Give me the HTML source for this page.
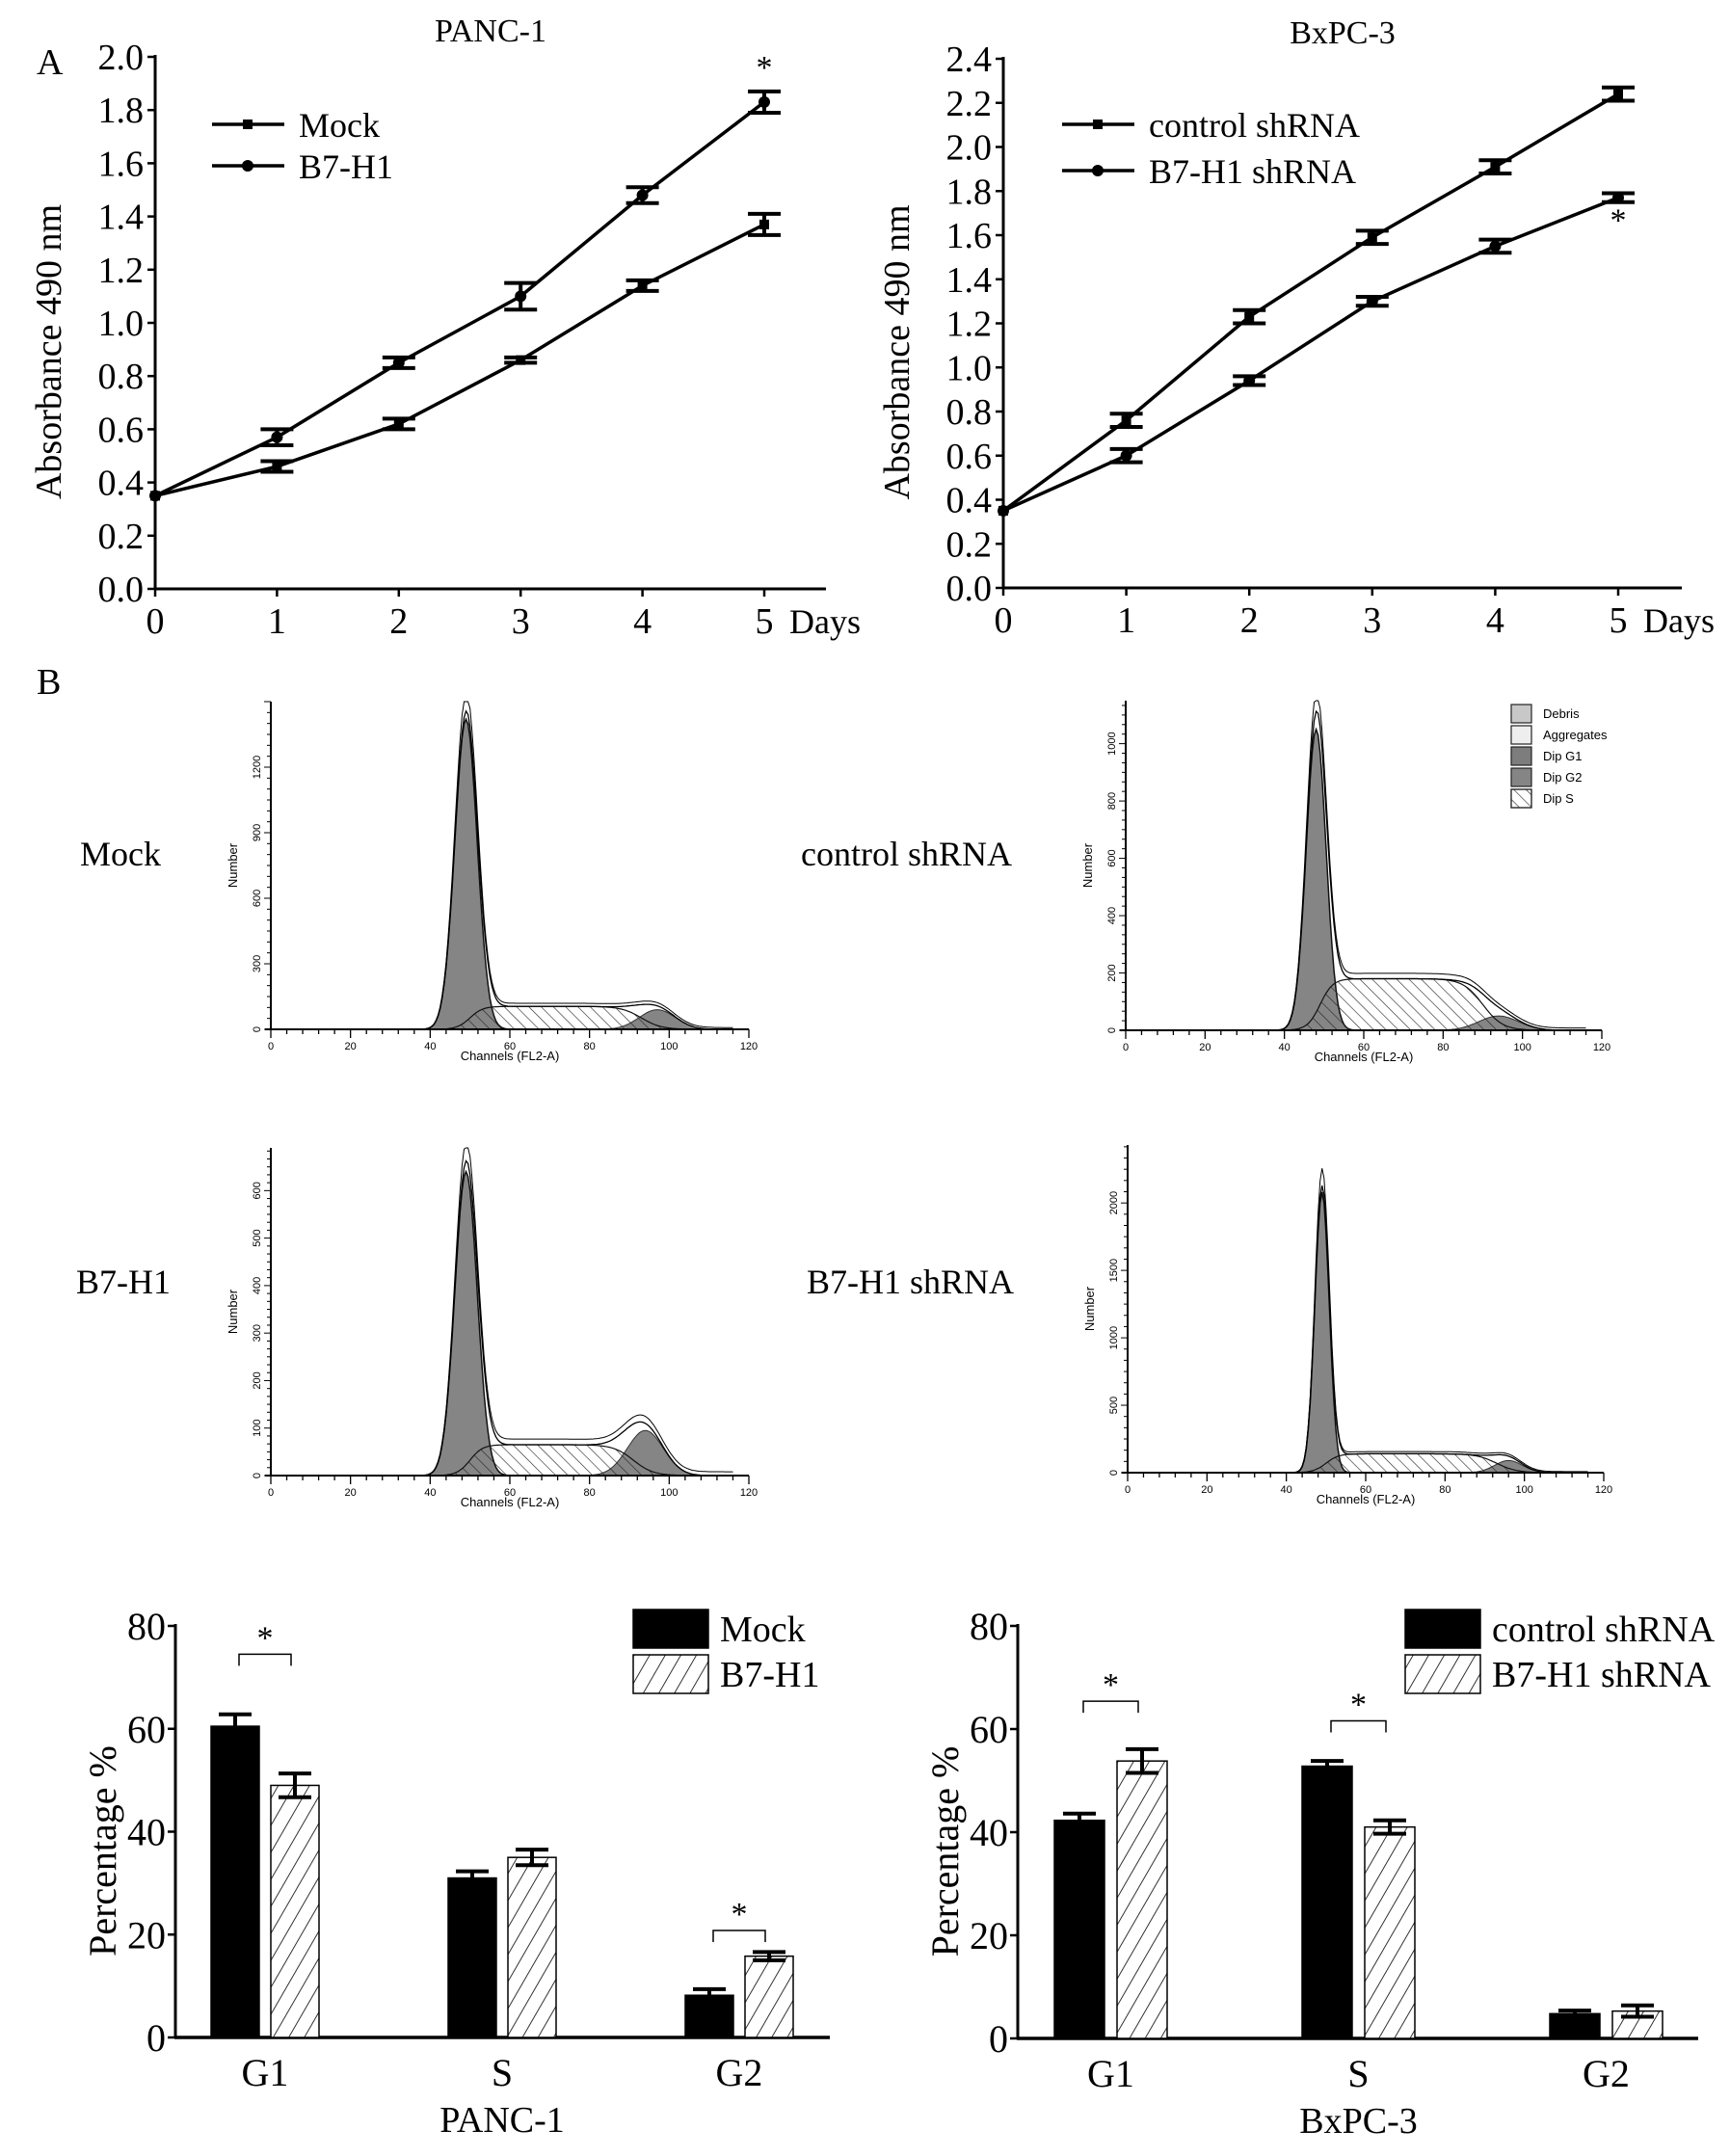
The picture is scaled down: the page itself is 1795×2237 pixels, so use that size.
<!DOCTYPE html>
<html><head><meta charset="utf-8"><style>
html,body{margin:0;padding:0;background:#fff;}
svg{display:block;}
text{font-family:"Liberation Serif",serif;fill:#000;}
.sans{font-family:"Liberation Sans",sans-serif;}
</style></head><body>
<svg id="fig" width="1795" height="2237" viewBox="0 0 1795 2237" xmlns="http://www.w3.org/2000/svg">
<defs>
<pattern id="hatchBar" width="14" height="14" patternUnits="userSpaceOnUse" patternTransform="rotate(30)">
<rect width="14" height="14" fill="#fff"/><line x1="0" y1="0" x2="0" y2="14" stroke="#000" stroke-width="1.6"/></pattern>
<pattern id="hatchS" width="9" height="9" patternUnits="userSpaceOnUse" patternTransform="rotate(-45)">
<line x1="0" y1="0" x2="0" y2="9" stroke="#222" stroke-width="1.2"/></pattern>
</defs>
<g id="root"></g>
</svg>
<script>
// ---------- Panel A data ----------
const days = [0,1,2,3,4,5];
const panc1Mock = [0.35,0.46,0.62,0.86,1.14,1.37];
const panc1MockErr = [0.01,0.02,0.02,0.01,0.02,0.04];
const panc1B7 = [0.35,0.57,0.85,1.10,1.48,1.83];
const panc1B7Err = [0.01,0.03,0.02,0.05,0.03,0.04];
const bxControl = [0.35,0.76,1.23,1.59,1.91,2.24];
const bxControlErr = [0.01,0.03,0.03,0.03,0.03,0.03];
const bxB7 = [0.35,0.60,0.94,1.30,1.55,1.77];
const bxB7Err = [0.01,0.03,0.02,0.02,0.03,0.02];
const pancTicks = [0.0,0.2,0.4,0.6,0.8,1.0,1.2,1.4,1.6,1.8,2.0];
const bxTicks = [0.0,0.2,0.4,0.6,0.8,1.0,1.2,1.4,1.6,1.8,2.0,2.2,2.4];
// ---------- Histogram model parameters ----------
const histNames = ["Mock","control shRNA","B7-H1","B7-H1 shRNA"];
const histYMax = [1500,1150,690,2430];
const histTickStep = [300,200,100,500];
const histTickMax = [1200,1000,600,2000];
const g1Mean = [49,48,49,49];
const g1Sd = [2.8,2.5,2.8,1.8];
const g1Height = [1420,1050,640,2080];
const sLevel = [105,180,65,140];
const sEnd = [93,90,91,93];
const g2Mean = [97,94,94,96];
const g2Sd = [4.5,5,4.5,3.5];
const g2Height = [90,50,95,90];
// ---------- Bar data ----------
const phases = ["G1","S","G2"];
const pancBarMock = [60.5,31,8.2];
const pancBarMockErr = [2.3,1.3,1.2];
const pancBarB7 = [49,35,15.8];
const pancBarB7Err = [2.3,1.5,0.8];
const bxBarCtrl = [42.3,52.8,4.8];
const bxBarCtrlErr = [1.3,1.0,0.6];
const bxBarB7 = [53.8,41,5.3];
const bxBarB7Err = [2.3,1.3,1.1];
const barTicks = [0,20,40,60,80];

const NS="http://www.w3.org/2000/svg";
const root=document.getElementById('root');
function mk(tag,attrs,parent,txt){const e=document.createElementNS(NS,tag);for(const k in attrs)e.setAttribute(k,attrs[k]);if(txt!==undefined)e.textContent=txt;(parent||root).appendChild(e);return e;}

// ---------- Line charts ----------
function lineChart(o){
  const g=mk('g',{});
  
  
  const X=d=>o.x0+(o.x5-o.x0)*d/5;
  const Y=v=>o.y0-(o.y0-o.yTop)*v/o.vmax;
  mk('line',{x1:o.x0,y1:o.y0+1,x2:o.x0,y2:o.yTop-2,stroke:'#000','stroke-width':3},g);
  mk('line',{x1:o.x0-1,y1:o.y0,x2:o.xEnd,y2:o.y0,stroke:'#000','stroke-width':3},g);
  o.ticks.forEach(t=>{const y=Y(t);
    mk('line',{x1:o.x0-8,y1:y,x2:o.x0,y2:y,stroke:'#000','stroke-width':2.5},g);
    const tx=mk('text',{x:o.x0-12,y:y+13,'text-anchor':'end','font-size':38},g,t.toFixed(1));
    });
  days.forEach(d=>{const x=X(d);
    mk('line',{x1:x,y1:o.y0,x2:x,y2:o.y0+8,stroke:'#000','stroke-width':2.5},g);
    const tx=mk('text',{x:x,y:o.y0+46,'text-anchor':'middle','font-size':38},g,String(d));
    });
  const dl=mk('text',{x:o.x5+26,y:o.y0+46,'font-size':36},g,'Days');
  const yl=mk('text',{x:0,y:0,'text-anchor':'middle','font-size':38,transform:`translate(${o.x0-98},${(o.y0+o.yTop)/2+30}) rotate(-90)`},g,'Absorbance  490 nm');
  
  const tt=mk('text',{x:(o.x0+o.xEnd)/2,y:o.yTop-16,'text-anchor':'middle','font-size':34},g,o.title);
  
  o.series.forEach((s,si)=>{
    const pts=days.map((d,i)=>X(d)+','+Y(s.v[i])).join(' ');
    const pl=mk('polyline',{points:pts,fill:'none',stroke:'#000','stroke-width':3.5},g);
    
    days.forEach((d,i)=>{const x=X(d),y=Y(s.v[i]),e=(o.y0-o.yTop)*s.e[i]/o.vmax;
      if(i>0){
        const eb=mk('path',{d:`M${x-17},${y-e}H${x+17}M${x},${y-e}V${y+e}M${x-17},${y+e}H${x+17}`,stroke:'#000','stroke-width':4,fill:'none'},g);
        
      }
      let m;
      if(s.shape==='sq') m=mk('rect',{x:x-5,y:y-5,width:10,height:10,fill:'#000'},g);
      else m=mk('circle',{cx:x,cy:y,r:6,fill:'#000'},g);
      
    });
    const ly=o.legY[si];
    const ll=mk('line',{x1:o.legX,y1:ly,x2:o.legX+75,y2:ly,stroke:'#000','stroke-width':3.5},g);
    if(s.shape==='sq') mk('rect',{x:o.legX+32,y:ly-5,width:10,height:10,fill:'#000'},g);
    else mk('circle',{cx:o.legX+37,cy:ly,r:6,fill:'#000'},g);
    const lt=mk('text',{x:o.legX+90,y:ly+13,'font-size':36},g,s.label);
  });
  const st=mk('text',{x:X(5),y:Y(o.star),'text-anchor':'middle','font-size':34},g,'*');
}
lineChart({name:'panc1-growth-chart',title:'PANC-1',x0:161,x5:793,xEnd:857,y0:611,yTop:59,vmax:2.0,ticks:pancTicks,
  series:[{key:'mock',label:'Mock',v:panc1Mock,e:panc1MockErr,shape:'sq'},{key:'b7h1',label:'B7-H1',v:panc1B7,e:panc1B7Err,shape:'ci'}],
  legX:220,legY:[129,172],star:1.92});
lineChart({name:'bxpc3-growth-chart',title:'BxPC-3',x0:1041,x5:1679,xEnd:1745,y0:610,yTop:61,vmax:2.4,ticks:bxTicks,
  series:[{key:'control',label:'control shRNA',v:bxControl,e:bxControlErr,shape:'sq'},{key:'b7h1-shrna',label:'B7-H1 shRNA',v:bxB7,e:bxB7Err,shape:'ci'}],
  legX:1102,legY:[129,177],star:1.62});

const lbA=mk('text',{x:38,y:77,'font-size':38},root,'A');
const lbB=mk('text',{x:38,y:720,'font-size':38},root,'B');

// ---------- Histograms ----------
const histPos=[{x0:281,x120:777,y0:1068,yTop:728,lx:83,ly:898},{x0:1168,x120:1662,y0:1069,yTop:727,lx:831,ly:898},
               {x0:281,x120:777,y0:1531,yTop:1191,lx:79,ly:1342},{x0:1170,x120:1664,y0:1528,yTop:1188,lx:837,ly:1342}];
function gauss(c,m,s,h){return h*Math.exp(-(c-m)*(c-m)/(2*s*s));}
function sig(z){return 1/(1+Math.exp(-z));}
histNames.forEach((nm,k)=>{
  const p=histPos[k];
  const g=mk('g',{});
  
  
  const X=c=>p.x0+(p.x120-p.x0)*c/120;
  const Y=v=>p.y0-(p.y0-p.yTop)*Math.min(v,histYMax[k])/histYMax[k];
  const cs=[];for(let c=35;c<=116;c+=0.5)cs.push(c);
  const G1=c=>gauss(c,g1Mean[k],g1Sd[k],g1Height[k]);
  const G2=c=>gauss(c,g2Mean[k],g2Sd[k],g2Height[k]);
  const S=c=>sLevel[k]*sig((c-(g1Mean[k]+1))/1.6)*sig((sEnd[k]-c)/2.5);
  const area=f=>'M'+X(cs[0])+','+p.y0+' '+cs.map(c=>'L'+X(c).toFixed(1)+','+Y(f(c)).toFixed(1)).join(' ')+' L'+X(cs[cs.length-1])+','+p.y0+'Z';
  mk('path',{d:area(G1),fill:'#858585',stroke:'#111','stroke-width':1.5},g);
  mk('path',{d:area(G2),fill:'#858585',stroke:'#333','stroke-width':1},g);
  mk('path',{d:area(S),fill:'url(#hatchS)',stroke:'#111','stroke-width':1.2},g);
  const tot=c=>G1(c)+G2(c)+S(c);
  mk('path',{d:'M'+cs.map(c=>X(c).toFixed(1)+','+Y(tot(c)).toFixed(1)).join(' L'),fill:'none',stroke:'#000','stroke-width':1.3},g);
  mk('path',{d:'M'+cs.map(c=>X(c).toFixed(1)+','+(Y(tot(c)*1.06+8*sig((c-g1Mean[k]-3)))).toFixed(1)).join(' L'),fill:'none',stroke:'#000','stroke-width':1},g);
  mk('line',{x1:p.x0,y1:p.y0,x2:p.x0,y2:p.yTop,stroke:'#000','stroke-width':2},g);
  mk('line',{x1:p.x0-6,y1:p.y0,x2:p.x120,y2:p.y0,stroke:'#000','stroke-width':2},g);
  const minor=histTickStep[k]/6;
  for(let v=0;v<=histYMax[k];v+=minor){const y=Y(v);const big=Math.abs(v/histTickStep[k]-Math.round(v/histTickStep[k]))<1e-6;
    mk('line',{x1:p.x0-(big?7:4),y1:y,x2:p.x0,y2:y,stroke:'#000','stroke-width':1},g);}
  for(let v=0;v<=histTickMax[k];v+=histTickStep[k]){
    const t=mk('text',{class:'sans','font-size':11,'text-anchor':'middle',transform:`translate(${p.x0-11},${Y(v)}) rotate(-90)`},g,String(v));
    }
  for(let c=0;c<=120;c+=4){const big=c%20===0;mk('line',{x1:X(c),y1:p.y0,x2:X(c),y2:p.y0+(big?9:5),stroke:'#000','stroke-width':1.3},g);}
  for(let c=0;c<=120;c+=20){const t=mk('text',{class:'sans',x:X(c),y:p.y0+21,'font-size':11,'text-anchor':'middle'},g,String(c));}
  const xt=mk('text',{class:'sans',x:X(60),y:p.y0+32,'font-size':13,'text-anchor':'middle'},g,'Channels (FL2-A)');
  const yt=mk('text',{class:'sans','font-size':13,'text-anchor':'middle',transform:`translate(${p.x0-35},${(p.y0+p.yTop)/2}) rotate(-90)`},g,'Number');
  const lab=mk('text',{x:p.lx,y:p.ly,'font-size':36},root,nm);
  
  if(k===1){
    const lg=mk('g',{},g);
    const items=[['Debris','#c8c8c8'],['Aggregates','#eeeeee'],['Dip G1','#7d7d7d'],['Dip G2','#858585'],['Dip S','url(#hatchS)']];
    items.forEach((it,i)=>{const y=731+i*22;
      mk('rect',{x:1568,y:y,width:21,height:19,fill:it[1]==='url(#hatchS)'?'#fff':it[1],stroke:'#222','stroke-width':1.2},lg);
      if(it[1]==='url(#hatchS)')mk('rect',{x:1568,y:y,width:21,height:19,fill:'url(#hatchS)',stroke:'#222','stroke-width':1.2},lg);
      const t=mk('text',{class:'sans',x:1601,y:y+14,'font-size':13},lg,it[0]);});
  }
});

// ---------- Bar charts ----------
function barChart(o){
  const g=mk('g',{});
  
  
  const Y=v=>o.y0-(o.y0-o.y80)*v/80;
  mk('line',{x1:o.x0,y1:o.y0+1,x2:o.x0,y2:o.y80-2,stroke:'#000','stroke-width':3},g);
  mk('line',{x1:o.x0-1,y1:o.y0,x2:o.xEnd,y2:o.y0,stroke:'#000','stroke-width':3.5},g);
  barTicks.forEach(t=>{const y=Y(t);mk('line',{x1:o.x0-8,y1:y,x2:o.x0,y2:y,stroke:'#000','stroke-width':2.5},g);
    const tx=mk('text',{x:o.x0-10,y:y+14,'text-anchor':'end','font-size':40},g,String(t));});
  const yt=mk('text',{'text-anchor':'middle','font-size':40,transform:`translate(${o.x0-62},${(o.y0+o.y80)/2+20}) rotate(-90)`},g,'Percentage  %');
  
  phases.forEach((ph,i)=>{
    const xa=o.x0+o.first+i*o.gap, xb=xa+o.bw+o.sep;
    const draw=(x,v,e,fill,key)=>{
      const r=mk('rect',{x:x,y:Y(v),width:o.bw,height:o.y0-Y(v),fill:fill,stroke:'#000','stroke-width':1.5},g);
      
      const cx=x+o.bw/2;
      const eb=mk('path',{d:`M${cx-17},${Y(v+e)}H${cx+17}M${cx},${Y(v+e)}V${Y(v-e)}M${cx-17},${Y(v-e)}H${cx+17}`,stroke:'#000','stroke-width':4,fill:'none'},g);
      
    };
    draw(xa,o.a[i],o.ae[i],'#000','a');
    draw(xb,o.b[i],o.be[i],'url(#hatchBar)','b');
    const cl=mk('text',{x:(xa+xb+o.bw)/2,y:o.y0+50,'text-anchor':'middle','font-size':40},g,ph);
    if(o.sig[i]!==null){const by=Y(o.sig[i]);const c1=xa+o.bw/2+4,c2=xb+o.bw/2-4;
      const br=mk('path',{d:`M${c1},${by+12}V${by}H${c2}V${by+12}`,fill:'none',stroke:'#000','stroke-width':1.5},g);
      const st=mk('text',{x:(c1+c2)/2,y:by-6,'text-anchor':'middle','font-size':34},g,'*');}
  });
  const sub=mk('text',{x:o.x0+o.first+o.gap+o.bw+o.sep/2,y:o.y0+98,'text-anchor':'middle','font-size':38},g,o.sub);
  [['#000',o.la],['url(#hatchBar)',o.lb]].forEach((it,i)=>{const y=o.legY+i*47;
    const r=mk('rect',{x:o.legX,y:y,width:78,height:40,fill:it[0],stroke:'#000','stroke-width':1.5},g);
    const t=mk('text',{x:o.legX+90,y:y+33,'font-size':38},g,it[1]);});
}
barChart({name:'panc1-cell-cycle-bars',x0:182,xEnd:861,y0:2114,y80:1687,first:37,gap:246,bw:50,sep:12,
  a:pancBarMock,ae:pancBarMockErr,b:pancBarB7,be:pancBarB7Err,sig:[74.5,null,20.8],sub:'PANC-1',la:'Mock',lb:'B7-H1',legX:657,legY:1670});
barChart({name:'bxpc3-cell-cycle-bars',x0:1056,xEnd:1762,y0:2115,y80:1687,first:38,gap:257,bw:52,sep:13,
  a:bxBarCtrl,ae:bxBarCtrlErr,b:bxBarB7,be:bxBarB7Err,sig:[65.4,61.6,null],sub:'BxPC-3',la:'control shRNA',lb:'B7-H1 shRNA',legX:1458,legY:1670});
</script>
</body></html>
